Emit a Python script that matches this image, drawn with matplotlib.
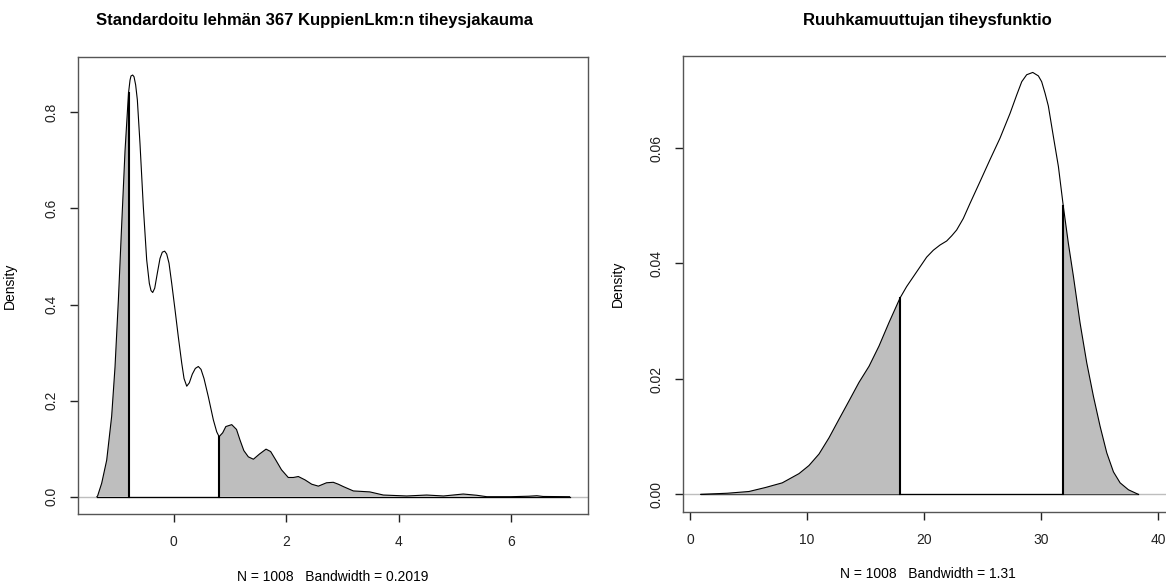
import matplotlib.pyplot as plt
import numpy as np

plt.rcParams['font.family'] = ['Liberation Sans', 'DejaVu Sans']

# standardoitu KuppienLkm, tiheysestimaatti
kup_x = np.array([-1.362, -1.35, -1.277, -1.188, -1.10, -1.04, -0.98, -0.92, -0.862, -0.80,
                  -0.773, -0.756, -0.726, -0.702, -0.673, -0.643, -0.596, -0.537, -0.477, -0.43,
                  -0.40, -0.37, -0.334, -0.288, -0.24, -0.199, -0.157, -0.121, -0.08, -0.032,
                  0.027, 0.085, 0.146, 0.187, 0.235, 0.281, 0.334, 0.388, 0.441, 0.489,
                  0.542, 0.619, 0.708, 0.768, 0.81, 0.874, 0.93, 1.035, 1.12, 1.182,
                  1.25, 1.33, 1.42, 1.53, 1.645, 1.727, 1.82, 1.92, 2.04, 2.13,
                  2.219, 2.338, 2.457, 2.575, 2.72, 2.84, 2.93, 3.02, 3.197, 3.49,
                  3.73, 4.145, 4.5, 4.8, 5.15, 5.39, 5.57, 6.0, 6.31, 6.46, 6.57, 7.04])
kup_d = np.array([0.0, 0.0015, 0.028, 0.076, 0.167, 0.27, 0.41, 0.57, 0.72, 0.84,
                  0.867, 0.8756, 0.8776, 0.874, 0.857, 0.826, 0.735, 0.604, 0.493, 0.444,
                  0.429, 0.425, 0.434, 0.465, 0.496, 0.509, 0.511, 0.505, 0.486, 0.444,
                  0.389, 0.333, 0.278, 0.246, 0.230, 0.237, 0.255, 0.267, 0.271, 0.265,
                  0.246, 0.208, 0.16, 0.135, 0.125, 0.133, 0.146, 0.150, 0.140, 0.118,
                  0.096, 0.083, 0.078, 0.089, 0.099, 0.094, 0.076, 0.056, 0.040, 0.040,
                  0.042, 0.035, 0.026, 0.022, 0.029, 0.030, 0.026, 0.021, 0.012, 0.010,
                  0.0035, 0.0015, 0.0035, 0.0015, 0.0056, 0.003, 0.0, 0.0, 0.001, 0.002, 0.0005, 0.0])
kup_cut = [-0.80, 0.81]
kup_title = 'Standardoitu lehmän 367 KuppienLkm:n tiheysjakauma'
kup_sub = 'N = 1008   Bandwidth = 0.2019'

# ruuhkamuuttuja, tiheysestimaatti
ruu_x = np.array([0.91, 3.19, 5.04, 6.46, 7.88, 9.31, 10.16, 11.02, 11.87, 12.72,
                  13.58, 14.43, 15.29, 16.14, 17.0, 17.93, 18.5, 19.07, 19.64, 20.21,
                  20.78, 21.35, 21.92, 22.35, 22.77, 23.34, 23.91, 24.77, 25.62, 26.47,
                  27.33, 27.9, 28.33, 28.75, 29.27, 29.75, 30.03, 30.32, 30.6, 31.03,
                  31.46, 31.88, 32.31, 32.74, 33.31, 33.88, 34.45, 35.02, 35.59, 36.16,
                  36.73, 37.44, 38.29])
ruu_d = np.array([0.0, 0.0002, 0.0005, 0.0012, 0.0020, 0.0036, 0.0050, 0.0070, 0.0098, 0.0130,
                  0.0162, 0.0194, 0.0222, 0.0257, 0.0298, 0.0340, 0.0360, 0.0377, 0.0394, 0.0411,
                  0.0423, 0.0432, 0.0439, 0.0448, 0.0458, 0.0478, 0.0504, 0.0542, 0.0580, 0.0617,
                  0.0660, 0.0692, 0.0715, 0.0727, 0.0731, 0.0725, 0.0715, 0.0695, 0.0673, 0.0620,
                  0.0568, 0.0499, 0.0435, 0.0378, 0.0297, 0.0228, 0.0170, 0.0118, 0.0072, 0.0039,
                  0.0020, 0.0008, 0.0])
ruu_cut = [17.93, 31.88]
ruu_title = 'Ruuhkamuuttujan tiheysfunktio'
ruu_sub = 'N = 1008   Bandwidth = 1.31'

W, H = 1166, 584
FS = 10
fig = plt.figure(figsize=(W / 100, H / 100), dpi=100)


def px_axes(x0, x1, y0, y1):
    return fig.add_axes([x0 / W, 1 - y1 / H, (x1 - x0) / W, (y1 - y0) / H])


def tiheys(ax, x, d, cut, sub, xlim, ylim, xticks, yticks, yfmt):
    ax.axhline(0, color='#bebebe', lw=1, zorder=1)
    ax.plot([x[0], x[-1]], [0, 0], color='black', lw=0.9, zorder=2)
    tail = (x <= cut[0]) | (x >= cut[1])
    ax.fill_between(x, 0, d, where=tail, color='#bebebe', lw=0, zorder=2)
    ax.plot(x, d, color='black', lw=0.8, zorder=3, solid_joinstyle='round')
    for c in cut:
        h = d[np.argmin(np.abs(x - c))]
        ax.plot([c, c], [0, h], color='black', lw=1.5, zorder=4)

    ax.set_xlim(xlim)
    ax.set_ylim(ylim)
    ax.set_xticks(xticks)
    ax.set_yticks(yticks)
    ax.set_yticklabels([yfmt % v for v in yticks], rotation=90, va='center')
    ax.tick_params(direction='out', length=6, width=1, labelsize=FS, colors='#222222')
    ax.tick_params(axis='x', pad=9)
    ax.tick_params(axis='y', pad=8)
    for s in ax.spines.values():
        s.set_color('#555555')
        s.set_linewidth(1)
    ax.set_ylabel('Density', fontsize=FS)
    ax.yaxis.set_label_coords(-0.12, 0.5)
    ax.text(0.5, -0.137, sub, transform=ax.transAxes, ha='center', va='center', fontsize=FS)


ax1 = px_axes(78, 588.3, 57.3, 514)
tiheys(ax1, kup_x, kup_d, kup_cut, kup_sub,
       (-1.698, 7.374), (-0.036, 0.9145), [0, 2, 4, 6], [0.0, 0.2, 0.4, 0.6, 0.8], '%.1f')

ax2 = px_axes(683.3, 1172, 55.7, 511.7)
tiheys(ax2, ruu_x, ruu_d, ruu_cut, ruu_sub,
       (-0.57, 41.16), (-0.0030, 0.0760), [0, 10, 20, 30, 40], [0.00, 0.02, 0.04, 0.06], '%.2f')

# otsikot
fig.text(315 / W, 1 - 21 / H, kup_title, ha='center', va='center', fontsize=12, fontweight='bold')
fig.text(927.5 / W, 1 - 21 / H, ruu_title, ha='center', va='center', fontsize=12, fontweight='bold')

fig.savefig('out.png', dpi=100)
